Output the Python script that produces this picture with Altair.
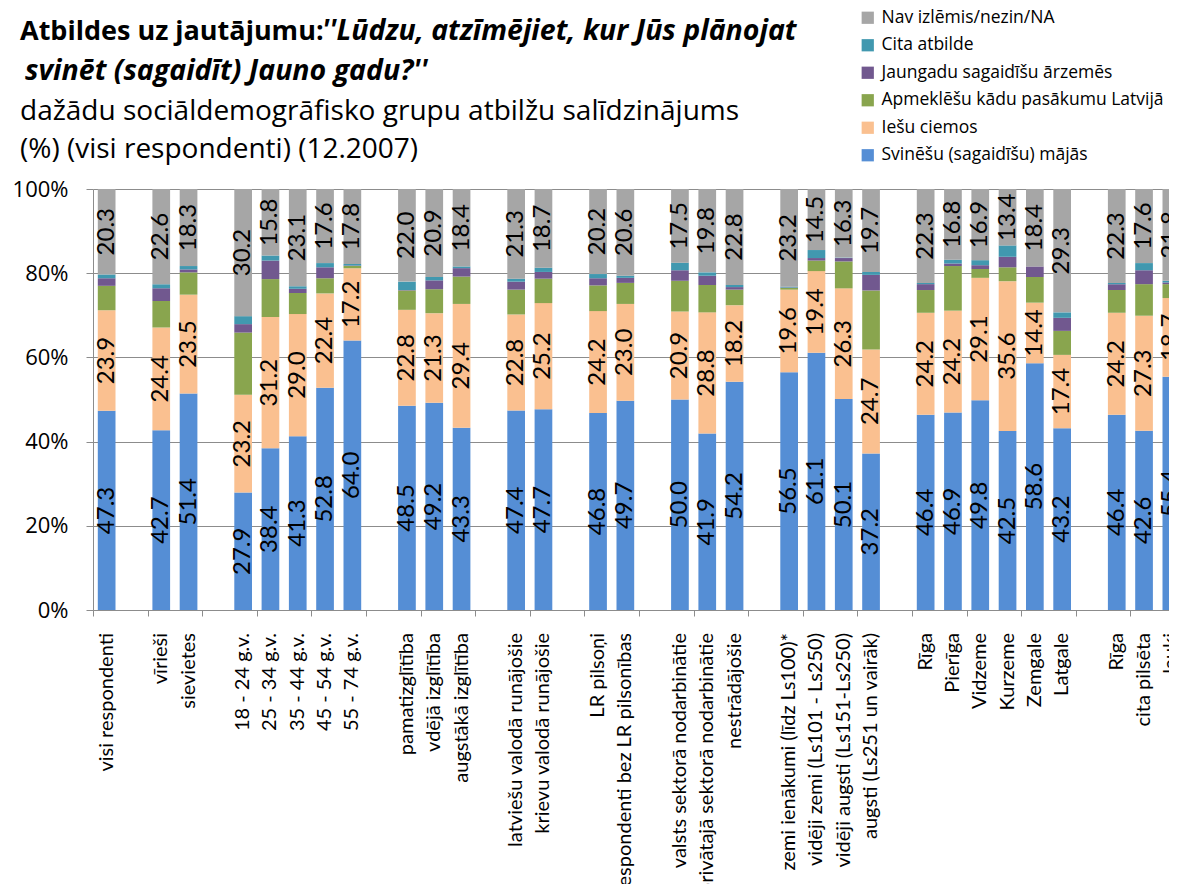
import altair as alt
import pandas as pd

categories = [
    "visi respondenti", "",
    "vīrieši", "sievietes", "",
    "18 - 24 g.v.", "25 - 34 g.v.", "35 - 44 g.v.", "45 - 54 g.v.", "55 - 74 g.v.", "",
    "pamatizglītība", "vdējā izglītība", "augstākā izglītība", "",
    "latviešu valodā runājošie", "krievu valodā runājošie", "",
    "LR pilsoņi", "respondenti bez LR pilsonības", "",
    "valsts sektorā nodarbinātie", "privātajā sektorā nodarbinātie", "nestrādājošie", "",
    "zemi ienākumi (līdz Ls100)*", "vidēji zemi (Ls101 - Ls250)", "vidēji augsti (Ls151-Ls250)", "augsti (Ls251 un vairāk)", "",
    "Rīga", "Pierīga", "Vidzeme", "Kurzeme", "Zemgale", "Latgale", "",
    "Rīga", "cita pilsēta", "lauki",
]

N = None
home = [47.3, N, 42.7, 51.4, N, 27.9, 38.4, 41.3, 52.8, 64.0, N, 48.5, 49.2, 43.3, N,
        47.4, 47.7, N, 46.8, 49.7, N, 50.0, 41.9, 54.2, N, 56.5, 61.1, 50.1, 37.2, N,
        46.4, 46.9, 49.8, 42.5, 58.6, 43.2, N, 46.4, 42.6, 55.4]
visit = [23.9, N, 24.4, 23.5, N, 23.2, 31.2, 29.0, 22.4, 17.2, N, 22.8, 21.3, 29.4, N,
         22.8, 25.2, N, 24.2, 23.0, N, 20.9, 28.8, 18.2, N, 19.6, 19.4, 26.3, 24.7, N,
         24.2, 24.2, 29.1, 35.6, 14.4, 17.4, N, 24.2, 27.3, 18.7]
event = [5.8, N, 6.3, 5.3, N, 14.8, 9.0, 5.0, 3.6, 0.5, N, 4.6, 5.7, 6.5, N,
         5.9, 5.8, N, 6.1, 5.0, N, 7.3, 6.5, 3.7, N, 0.4, 2.5, 6.4, 14.0, N,
         5.4, 10.6, 2.1, 3.3, 6.1, 5.7, N, 5.4, 7.5, 3.3]
abroad = [1.8, N, 3.0, 0.7, N, 2.0, 4.4, 1.0, 2.6, 0.1, N, 0.1, 2.1, 2.0, N,
          1.9, 1.6, N, 1.7, 1.2, N, 2.5, 2.2, 0.6, N, 0.1, 0.6, 0.8, 3.7, N,
          1.4, 0.6, 0.9, 2.5, 2.5, 3.1, N, 1.4, 3.3, 0.4]
other = [0.9, N, 1.0, 0.8, N, 1.9, 1.2, 0.6, 1.0, 0.4, N, 2.0, 0.8, 0.4, N,
         0.7, 1.0, N, 1.0, 0.5, N, 1.8, 0.8, 0.5, N, 0.2, 1.9, 0.1, 0.7, N,
         0.3, 0.9, 1.2, 2.7, 0.0, 1.3, N, 0.3, 1.7, 0.4]
undecided = [20.3, N, 22.6, 18.3, N, 30.2, 15.8, 23.1, 17.6, 17.8, N, 22.0, 20.9, 18.4, N,
             21.3, 18.7, N, 20.2, 20.6, N, 17.5, 19.8, 22.8, N, 23.2, 14.5, 16.3, 19.7, N,
             22.3, 16.8, 16.9, 13.4, 18.4, 29.3, N, 22.3, 17.6, 21.8]

series_names = [
    "Svinēšu (sagaidīšu) mājās",
    "Iešu ciemos",
    "Apmeklēšu kādu pasākumu Latvijā",
    "Jaungadu sagaidīšu ārzemēs",
    "Cita atbilde",
    "Nav izlēmis/nezin/NA",
]
series_colors = ["#558ED5", "#FAC090", "#89A54E", "#71588F", "#4198AF", "#A6A6A6"]
labeled_series = ["Svinēšu (sagaidīšu) mājās", "Iešu ciemos", "Nav izlēmis/nezin/NA"]

title_bold = "Atbildes uz jautājumu:"
title_italic_1 = "''Lūdzu, atzīmējiet, kur Jūs plānojat"
title_italic_2 = "svinēt (sagaidīt) Jauno gadu?''"
subtitle_1 = "dažādu sociāldemogrāfisko grupu atbilžu salīdzinājums"
subtitle_2 = "(%) (visi respondenti) (12.2007)"

rows = []
for order, (name, vals) in enumerate(zip(series_names, [home, visit, event, abroad, other, undecided])):
    for slot, v in enumerate(vals):
        if v is not None and v > 0:
            rows.append({"slot": slot, "series": name, "order": order, "value": v})
df = pd.DataFrame(rows)

cat_df = pd.DataFrame({"slot": list(range(len(categories))), "label": categories})
cat_df = cat_df[cat_df["label"] != ""]

FONT = "Lato"
HFONT = "Open Sans"
GRAY = "#8C8C8C"

PLOT_W = 1076
PLOT_H = 421
STEP = 27.3          # width of one category slot in pixels (the chart runs past the right edge)
HALF = STEP / 2

x_scale = alt.Scale(domain=[-0.5, -0.5 + PLOT_W / STEP], nice=False, zero=False, padding=0)
x_enc = alt.X(
    "slot:Q",
    scale=x_scale,
    axis=alt.Axis(
        values=list(range(len(categories))), labels=False,
        tickOffset=-HALF, tickSize=6, tickColor=GRAY, domainColor=GRAY,
        grid=False, title=None,
    ),
)

base = alt.Chart(df).transform_stack(
    stack="value", groupby=["slot"], sort=[alt.SortField("order", order="ascending")],
    as_=["y0", "y1"],
)

bars = base.mark_bar(width=17.7).encode(
    x=x_enc,
    y=alt.Y(
        "y0:Q",
        scale=alt.Scale(domain=[0, 100]),
        axis=alt.Axis(
            values=[0, 20, 40, 60, 80, 100], labelExpr="datum.value + '%'",
            gridColor=GRAY, domainColor=GRAY, tickColor=GRAY, tickSize=7,
            labelPadding=18, labelFont=HFONT, labelFontSize=22, labelColor="black",
            title=None,
        ),
    ),
    y2="y1:Q",
    color=alt.Color(
        "series:N",
        scale=alt.Scale(domain=series_names[::-1], range=series_colors[::-1]),
        legend=alt.Legend(
            orient="none", legendX=766, legendY=-180, title=None,
            symbolType="square", symbolSize=150, symbolStrokeWidth=0,
            labelFont=HFONT, labelFontSize=17.5, labelLimit=400, rowPadding=8.5,
            labelOffset=5, labelColor="black",
        ),
    ),
)

labels = base.transform_filter(
    alt.FieldOneOfPredicate(field="series", oneOf=labeled_series)
).transform_calculate(mid="(datum.y0 + datum.y1) / 2").mark_text(
    angle=270, font=FONT, fontSize=24, color="black", align="center", baseline="middle"
).encode(
    x=alt.X("slot:Q"),
    y=alt.Y("mid:Q"),
    text=alt.Text("value:Q", format=".1f"),
)

cat_labels = alt.Chart(cat_df).mark_text(
    angle=270, font=FONT, fontSize=20, color="black", align="right", baseline="middle"
).encode(
    x=alt.X("slot:Q"),
    y=alt.value(PLOT_H + 23),
    text="label:N",
)


def text_line(txt, x, y, size, weight="normal", style="normal"):
    return alt.Chart(pd.DataFrame({"t": [txt]})).mark_text(
        align="left", baseline="alphabetic", font=HFONT, fontSize=size,
        fontWeight=weight, fontStyle=style, color="black",
    ).encode(x=alt.value(x), y=alt.value(y), text="t:N")


t1 = text_line(title_bold, -73, -149, 27, weight="bold")
t2 = text_line(title_italic_1, 229, -149, 28.5, weight="bold", style="italic")
t3 = text_line(title_italic_2, -68, -109, 28.5, weight="bold", style="italic")
t4 = text_line(subtitle_1, -73, -69, 28)
t5 = text_line(subtitle_2, -73, -31, 28)

chart = alt.layer(bars, labels, cat_labels, t1, t2, t3, t4, t5).properties(
    width=PLOT_W, height=PLOT_H,
    autosize=alt.AutoSizeParams(type="none"),
    padding={"left": 85, "top": 181, "right": 0, "bottom": 274},
).configure_view(stroke=None)

chart.save("out.html", embed_options={"renderer": "svg", "actions": False})
